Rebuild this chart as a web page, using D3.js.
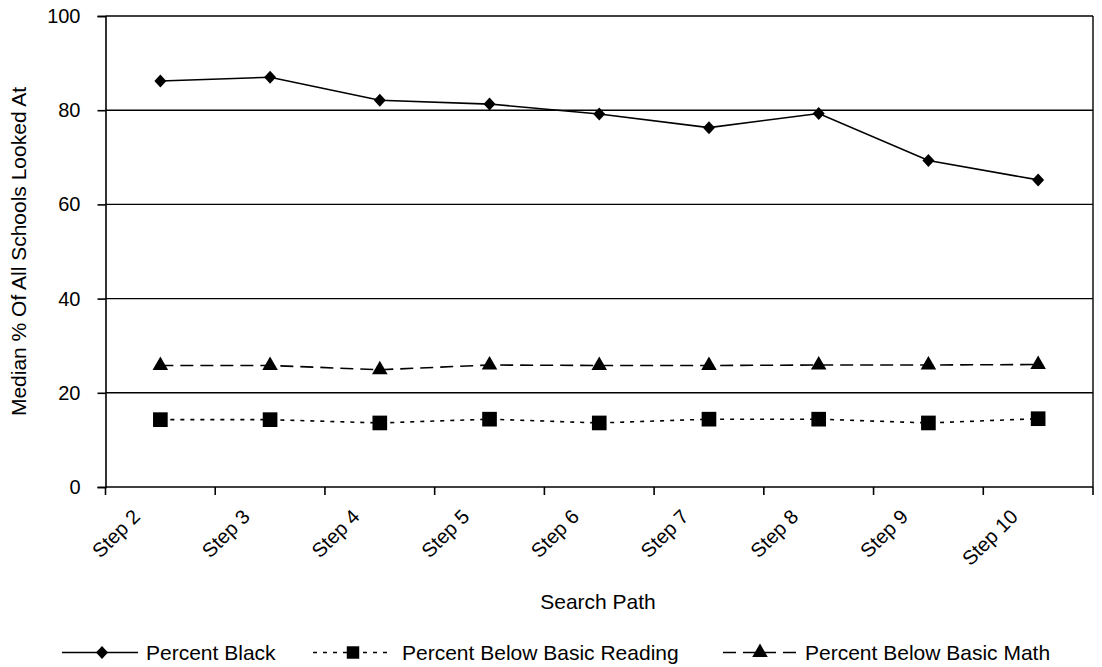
<!DOCTYPE html>
<html><head><meta charset="utf-8">
<script src="https://cdn.jsdelivr.net/npm/d3@7"></script>
<style>body{margin:0;background:#fff}svg{display:block}text{font-family:"Liberation Sans",Arial,sans-serif;fill:#000}</style>
</head><body>
<script>
const categories = ["Step 2","Step 3","Step 4","Step 5","Step 6","Step 7","Step 8","Step 9","Step 10"];
const percentBlack = [86.2, 87.0, 82.1, 81.3, 79.2, 76.3, 79.3, 69.3, 65.2];
const belowReading = [14.3, 14.3, 13.6, 14.4, 13.6, 14.4, 14.4, 13.6, 14.5];
const belowMath = [25.8, 25.8, 24.9, 25.9, 25.8, 25.8, 25.9, 25.9, 26.0];
const yTicks = [0, 20, 40, 60, 80, 100];
const seriesNames = ["Percent Black", "Percent Below Basic Reading", "Percent Below Basic Math"];

const W = 1102, H = 667;
const m = {left:105.5, right:1093, top:16, bottom:487};
const svg = d3.select("body").append("svg").attr("width", W).attr("height", H);

const x = d3.scaleBand().domain(categories).range([m.left, m.right]);
const y = d3.scaleLinear().domain([0,100]).range([m.bottom, m.top]);

// gridlines
svg.append("g").selectAll("line").data(yTicks.filter(d=>d>0)).join("line")
  .attr("x1", m.left).attr("x2", m.right).attr("y1", d=>y(d)).attr("y2", d=>y(d))
  .attr("stroke","#000").attr("stroke-width",1.4);
// right border
svg.append("line").attr("x1", m.right).attr("x2", m.right).attr("y1", m.top).attr("y2", m.bottom)
  .attr("stroke","#000").attr("stroke-width",1.4);

// y axis
const ya = svg.append("g").attr("transform",`translate(${m.left},0)`)
  .call(d3.axisLeft(y).tickValues(yTicks).tickSize(8).tickPadding(17));
ya.select(".domain").attr("stroke-width",1.6);
ya.selectAll("line").attr("stroke-width",1.6);
ya.selectAll("text").style("font-size","20px").style("font-family","Liberation Sans, Arial, sans-serif");

// x axis with ticks at band boundaries
const xa = svg.append("g").attr("transform",`translate(0,${m.bottom})`);
xa.append("line").attr("x1", m.left).attr("x2", m.right).attr("stroke","#000").attr("stroke-width",1.6);
const bounds = categories.map(c=>x(c)).concat([m.right]);
xa.selectAll("line.tk").data(bounds).join("line").attr("class","tk")
  .attr("x1",d=>d).attr("x2",d=>d).attr("y1",0).attr("y2",8).attr("stroke","#000").attr("stroke-width",1.6);
xa.selectAll("text").data(categories).join("text")
  .attr("transform", d=>`translate(${x(d)+x.bandwidth()/2-19},${31}) rotate(-45)`)
  .attr("text-anchor","end").style("font-size","20px").text(d=>d);

// axis titles
svg.append("text").attr("transform",`translate(26,${(m.top+m.bottom)/2}) rotate(-90)`)
  .attr("text-anchor","middle").style("font-size","21px").text("Median % Of All Schools Looked At");
svg.append("text").attr("x",598).attr("y",609).attr("text-anchor","middle")
  .style("font-size","21px").text("Search Path");

const cx = d => x(d)+x.bandwidth()/2;
const line = d3.line().x((d,i)=>cx(categories[i])).y(d=>y(d));

const diamondPath = "M0,-6.5L6,0L0,6.5L-6,0Z";
const styles = [
  {data: percentBlack, dash: null, path: diamondPath},
  {data: belowReading, dash: "4,6", path: d3.symbol().type(d3.symbolSquare).size(215)()},
  {data: belowMath, dash: "13,7", path: d3.symbol().type(d3.symbolTriangle).size(105)()}
];

styles.forEach(s=>{
  svg.append("path").datum(s.data).attr("d", line).attr("fill","none")
    .attr("stroke","#000").attr("stroke-width",1.6).attr("stroke-dasharray", s.dash);
  svg.append("g").selectAll("path").data(s.data).join("path")
    .attr("transform",(d,i)=>`translate(${cx(categories[i])},${y(d)})`)
    .attr("d", s.path).attr("fill","#000");
});

// legend
const legY = 652.5;
const leg = [
  {x1:62, x2:138, xs:102, tx:146, sc:1},
  {x1:313, x2:388, xs:353, tx:402, sc:0.85},
  {x1:723, x2:800, xs:760, tx:805, sc:1}
];
leg.forEach((l,i)=>{
  const s = styles[i];
  svg.append("line").attr("x1",l.x1).attr("x2",l.x2).attr("y1",legY).attr("y2",legY)
    .attr("stroke","#000").attr("stroke-width",1.5).attr("stroke-dasharray", s.dash);
  svg.append("path").attr("transform",`translate(${l.xs},${legY}) scale(${l.sc})`)
    .attr("d", s.path).attr("fill","#000");
  svg.append("text").attr("x",l.tx).attr("y",legY).attr("dy","0.36em").style("font-size","21px").text(seriesNames[i]);
});
</script>
</body></html>
